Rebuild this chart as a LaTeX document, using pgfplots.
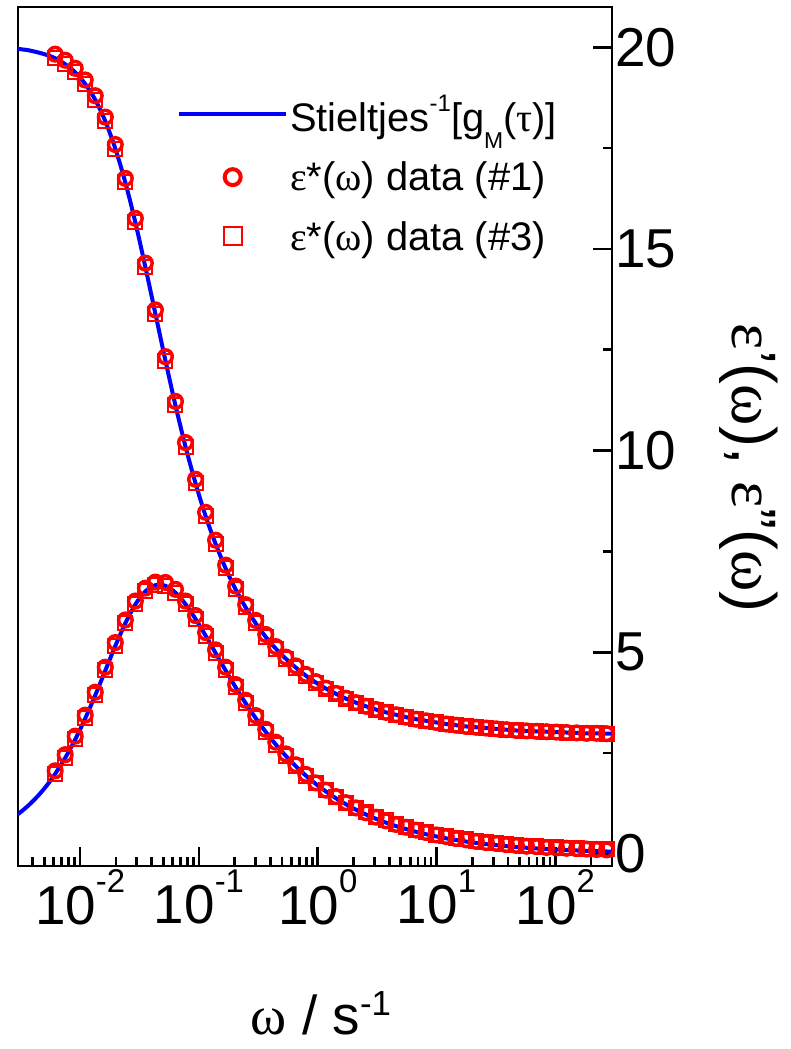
\documentclass[border=0pt]{standalone}
\usepackage{fontspec}
\setmainfont{Liberation Sans}
\newfontfamily\gr{Liberation Serif}
\usepackage{pgfplots}
\usepackage{pgfplotstable}
\pgfplotsset{compat=1.18}
\definecolor{myred}{RGB}{255,0,0}
\definecolor{myblue}{RGB}{0,0,255}

\newcommand{\supT}[1]{\raisebox{0.58em}{\fontsize{33}{36}\selectfont #1}}

\pgfplotsset{
  mylineleg/.style={legend image code/.code={\draw[##1] (0bp,0bp) -- (107bp,0bp);}},
  mymarkleg/.style={legend image code/.code={\draw[##1] plot coordinates {(53.5bp,0bp)};}},
}

% fit line: omega, eps', eps''
\pgfplotstableread{
w ep epp
0.0030 19.96 0.985
0.00363 19.93 1.188
0.00447 19.87 1.455
0.00525 19.81 1.700
0.006166 19.73 1.984
0.007488 19.58 2.380
0.009094 19.38 2.838
0.01104 19.09 3.359
0.01341 18.70 3.934
0.01629 18.17 4.545
0.01978 17.49 5.156
0.02402 16.65 5.719
0.02917 15.66 6.186
0.03543 14.55 6.510
0.04305 13.39 6.664
0.05228 12.23 6.647
0.06349 11.12 6.477
0.07711 10.10 6.193
0.09367 9.19 5.826
0.1138 8.38 5.414
0.1381 7.69 4.983
0.1678 7.08 4.550
0.2038 6.56 4.132
0.2475 6.11 3.736
0.3006 5.72 3.366
0.3651 5.38 3.026
0.4434 5.09 2.714
0.5385 4.84 2.431
0.6540 4.62 2.174
0.7943 4.42 1.942
0.9647 4.25 1.734
1.172 4.10 1.548
1.423 3.97 1.381
1.728 3.85 1.231
2.099 3.75 1.097
2.549 3.66 0.977
3.096 3.58 0.870
3.760 3.51 0.775
4.566 3.45 0.690
5.546 3.39 0.615
6.735 3.34 0.547
8.180 3.30 0.487
9.936 3.26 0.434
12.07 3.22 0.386
14.66 3.19 0.344
17.80 3.16 0.306
21.62 3.14 0.272
26.26 3.12 0.242
31.89 3.10 0.216
38.73 3.08 0.192
47.03 3.06 0.171
57.12 3.05 0.152
69.37 3.04 0.135
84.25 3.03 0.120
102.3 3.02 0.107
124.3 3.01 0.095
150.9 3.00 0.085
183.3 2.99 0.076
222.6 2.99 0.067
270.4 2.98 0.060
302.0 2.98 0.056
}\fitline

% data #1 (circles)
\pgfplotstableread{
w ep epp
0.006166 19.83 2.06
0.007488 19.68 2.46
0.009094 19.48 2.92
0.01104 19.19 3.44
0.01341 18.80 4.01
0.01629 18.27 4.63
0.01978 17.59 5.24
0.02402 16.75 5.80
0.02917 15.76 6.27
0.03543 14.65 6.59
0.04305 13.49 6.74
0.05228 12.33 6.73
0.06349 11.22 6.56
0.07711 10.20 6.27
0.09367 9.29 5.91
0.1138 8.47 5.49
0.1381 7.78 5.06
0.1678 7.16 4.63
0.2038 6.64 4.20
0.2475 6.18 3.81
0.3006 5.79 3.43
0.3651 5.44 3.09
0.4434 5.14 2.77
0.5385 4.88 2.48
0.6540 4.66 2.21
0.7943 4.45 1.97
0.9647 4.27 1.76
1.172 4.11 1.58
1.423 3.98 1.42
1.728 3.86 1.27
2.099 3.75 1.14
2.549 3.66 1.02
3.096 3.58 0.91
3.760 3.51 0.82
4.566 3.45 0.73
5.546 3.39 0.66
6.735 3.34 0.59
8.180 3.30 0.53
9.936 3.26 0.47
12.07 3.22 0.43
14.66 3.19 0.38
17.80 3.16 0.35
21.62 3.14 0.31
26.26 3.12 0.28
31.89 3.10 0.26
38.73 3.08 0.23
47.03 3.06 0.21
57.12 3.05 0.19
69.37 3.04 0.18
84.25 3.03 0.16
102.3 3.02 0.15
124.3 3.01 0.14
150.9 3.00 0.13
183.3 2.99 0.12
222.6 2.99 0.11
270.4 2.98 0.10
}\dataA

% data #3 (squares)
\pgfplotstableread{
w ep epp
0.006166 19.73 1.98
0.007488 19.58 2.38
0.009094 19.38 2.84
0.01104 19.09 3.36
0.01341 18.70 3.93
0.01629 18.17 4.55
0.01978 17.49 5.16
0.02402 16.65 5.72
0.02917 15.66 6.19
0.03543 14.55 6.51
0.04305 13.39 6.66
0.05228 12.23 6.65
0.06349 11.12 6.48
0.07711 10.10 6.19
0.09367 9.19 5.83
0.1138 8.38 5.41
0.1381 7.69 4.98
0.1678 7.08 4.55
0.2038 6.56 4.13
0.2475 6.11 3.74
0.3006 5.72 3.37
0.3651 5.38 3.03
0.4434 5.09 2.71
0.5385 4.84 2.43
0.6540 4.62 2.17
0.7943 4.42 1.94
0.9647 4.25 1.75
1.172 4.10 1.58
1.423 3.97 1.42
1.728 3.85 1.27
2.099 3.75 1.15
2.549 3.66 1.03
3.096 3.58 0.92
3.760 3.51 0.83
4.566 3.45 0.74
5.546 3.39 0.67
6.735 3.34 0.60
8.180 3.30 0.54
9.936 3.26 0.48
12.07 3.22 0.44
14.66 3.19 0.39
17.80 3.16 0.36
21.62 3.14 0.32
26.26 3.12 0.29
31.89 3.10 0.27
38.73 3.08 0.24
47.03 3.06 0.22
57.12 3.05 0.20
69.37 3.04 0.19
84.25 3.03 0.17
102.3 3.02 0.16
124.3 3.01 0.15
150.9 3.00 0.14
183.3 2.99 0.13
222.6 2.99 0.12
270.4 2.98 0.11
}\dataB

\begin{document}
\begin{tikzpicture}
\begin{axis}[
  scale only axis, width=594bp, height=859bp,
  xmode=log, xmin=0.003, xmax=300, ymin=-0.3, ymax=21,
  axis line style={line width=2.7bp},
  every tick/.append style={black, line width=2.7bp},
  major tick length=19bp, minor tick length=9bp,
  tick align=inside,
  xtick pos=bottom, ytick pos=right, yticklabel pos=right,
  xtick={0.01,0.1,1,10,100},
  minor xtick={0.004,0.005,0.006,0.007,0.008,0.009,
    0.02,0.03,0.04,0.05,0.06,0.07,0.08,0.09,
    0.2,0.3,0.4,0.5,0.6,0.7,0.8,0.9,
    2,3,4,5,6,7,8,9,20,30,40,50,60,70,80,90,200},
  xticklabels={10\supT{-2},10\supT{-1},10\supT{0},10\supT{1},10\supT{2}},
  ytick={0,5,10,15,20},
  yticklabels={0,5,10,15,20},
  minor ytick={2.5,7.5,12.5,17.5},
  tick label style={font=\fontsize{55}{60}\selectfont},
  xlabel={{\gr ω} / s\raisebox{0.36em}{\fontsize{35}{38}\selectfont -1}},
  xlabel style={font=\fontsize{55}{60}\selectfont, at={(rel axis cs:0.51,-0.1967)}, anchor=base, inner sep=0pt},
  ylabel={{\gr ε}'({\gr ω}), {\gr ε}''({\gr ω})},
  ylabel style={font=\fontsize{63}{70}\selectfont, rotate=180, at={(rel axis cs:1.2306,0.4633)}, anchor=center},
  legend cell align=left,
  legend style={draw=none, fill=none, at={(rel axis cs:0.2677,0.9000)}, anchor=north west,
    font=\fontsize{40}{46}\selectfont, inner sep=0pt, row sep=25bp},
]
\addlegendimage{myblue, line width=4bp, mylineleg}
\addlegendentry{Stieltjes\raisebox{0.5em}{\fontsize{24}{26}\selectfont -1}[g\raisebox{-0.42em}{\fontsize{23}{25}\selectfont M}({\gr τ})]\rule[-21bp]{0pt}{1bp}}
\addlegendimage{only marks, mark=o, draw=myred, mark size=8bp, line width=4bp, mymarkleg}
\addlegendentry{{\gr ε}*({\gr ω}) data (\#1)}
\addlegendimage{only marks, mark=square, draw=myred, mark size=9bp, line width=2bp, mymarkleg}
\addlegendentry{{\gr ε}*({\gr ω}) data (\#3)}

\addplot[forget plot, only marks, mark=o, draw=myred, mark size=6.8bp, line width=3.5bp] table[x=w, y=ep] {\dataA};
\addplot[forget plot, only marks, mark=o, draw=myred, mark size=6.8bp, line width=3.5bp] table[x=w, y=epp] {\dataA};
\addplot[forget plot, only marks, mark=square, draw=myred, mark size=7bp, line width=2bp] table[x=w, y=ep] {\dataB};
\addplot[forget plot, only marks, mark=square, draw=myred, mark size=7bp, line width=2bp] table[x=w, y=epp] {\dataB};
\addplot[forget plot, myblue, line width=4bp, smooth] table[x=w, y=ep] {\fitline};
\addplot[forget plot, myblue, line width=4bp, smooth] table[x=w, y=epp] {\fitline};
\end{axis}
\pgfresetboundingbox
\path[use as bounding box] ([shift={(-18bp,-183bp)}]current axis.south west) rectangle ([shift={(179bp,7bp)}]current axis.north east);
\end{tikzpicture}
\end{document}
